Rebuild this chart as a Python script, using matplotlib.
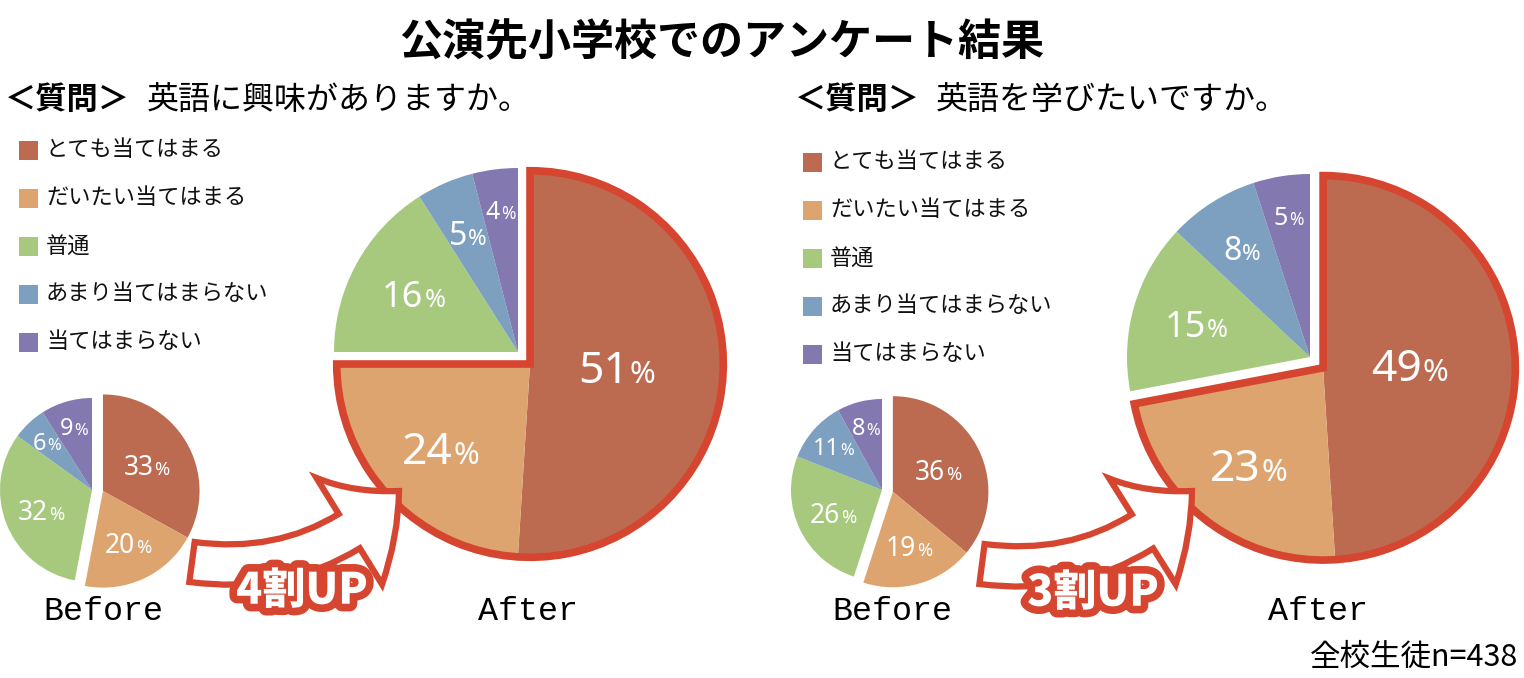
import matplotlib
matplotlib.use('Agg')
import matplotlib.pyplot as plt
import matplotlib.patches as mpatches
import matplotlib.patheffects as pe
import numpy as np

plt.rcParams['font.family'] = ['Noto Sans CJK JP', 'DejaVu Sans']

# Chart data
TITLE = '公演先小学校でのアンケート結果'
CATEGORIES = ['とても当てはまる', 'だいたい当てはまる', '普通', 'あまり当てはまらない', '当てはまらない']
QUESTION_TAG = '＜質問＞'
Q1_TEXT = '英語に興味がありますか。'
Q2_TEXT = '英語を学びたいですか。'
q1_before = [33, 20, 32, 6, 9]
q1_after = [51, 24, 16, 5, 4]
q2_before = [36, 19, 26, 11, 8]
q2_after = [49, 23, 15, 8, 5]
q1_up_label = '4割UP'
q2_up_label = '3割UP'
BEFORE_LABEL = 'Before'
AFTER_LABEL = 'After'
SAMPLE_NOTE = '全校生徒n=438'

# Styles
COLORS = ['#bd6b50', '#dea46f', '#a6c97e', '#7ea0c0', '#8379b0']
HIGHLIGHT = '#d5452f'
BEFORE_SIZES = [19, 19, 19, 17, 17]
AFTER_SIZES = [32, 32, 26, 23, 18]
BEFORE_DISTS = [0.52, 0.6, 0.6, 0.72, 0.72]
AFTER_DISTS = [0.45, 0.64, 0.65, 0.7, 0.78]

W, H = 1524, 678
PX = 100 / 72.0   # pixels per point

fig = plt.figure(figsize=(W / 100, H / 100), dpi=100)
ax = fig.add_axes([0, 0, 1, 1])


def Y(py):
   # pixel row (from top) -> data y (from bottom)
   return H - py


def DrawPercent(x, y, value, size):
   num = str(value)
   pct_size = size * 0.7
   num_w = len(num) * 0.56 * size * PX
   pct_w = 0.8 * pct_size * PX
   total = num_w + pct_w
   x_split = x - total / 2 + num_w
   base = y - 0.36 * size * PX
   ax.text(x_split, base, num, color='white', fontsize=size, ha='right', va='baseline',
           family=['Noto Sans', 'DejaVu Sans'], zorder=4)
   ax.text(x_split + 1, base, '%', color='white', fontsize=pct_size, ha='left', va='baseline',
           family=['Noto Sans', 'DejaVu Sans'], zorder=4)


def DrawPie(values, cx, cy, radius, grow, shift, sizes, dists, outline):
   wedges, _ = ax.pie(values, colors=COLORS, startangle=90, counterclock=False,
                      radius=radius, center=(cx, Y(cy)), wedgeprops=dict(linewidth=0))
   # the first two answers ("positive") are pulled out as a group
   t_lo = min(w.theta1 for w in wedges[:2])
   t_hi = max(w.theta2 for w in wedges[:2])
   mid = np.deg2rad((t_lo + t_hi) / 2)
   gx = cx + shift * np.cos(mid)
   gy = Y(cy) + shift * np.sin(mid)
   for w in wedges[:2]:
      w.set_center((gx, gy))
      w.set_radius(radius * grow)
   if outline:
      ax.add_patch(mpatches.Wedge((gx, gy), radius * grow + 1, t_lo, t_hi, facecolor='none',
                                  edgecolor=HIGHLIGHT, linewidth=5.5, joinstyle='miter', zorder=3))
   for i, w in enumerate(wedges):
      a = np.deg2rad((w.theta1 + w.theta2) / 2)
      ox, oy = w.center
      r = w.r * dists[i]
      DrawPercent(ox + r * np.cos(a), oy + r * np.sin(a), values[i], sizes[i])


def DrawUpArrow(x0, y0, x1, y1, label, lx, ly):
   arrow = mpatches.FancyArrowPatch((x0, Y(y0)), (x1, Y(y1)), connectionstyle='arc3,rad=0.25',
                                    arrowstyle='simple,head_length=46,head_width=90,tail_width=29',
                                    mutation_scale=1, facecolor='white', edgecolor=HIGHLIGHT,
                                    linewidth=4.5, joinstyle='miter', shrinkA=0, shrinkB=0, zorder=5)
   ax.add_patch(arrow)
   ax.text(lx, Y(ly), label, color='white', fontsize=31, fontweight='heavy', ha='center', va='center',
           path_effects=[pe.withStroke(linewidth=11, foreground=HIGHLIGHT)], zorder=6)


def DrawLegend(x, y0, step):
   for i, cat in enumerate(CATEGORIES):
      yc = Y(y0 + i * step)
      ax.add_patch(mpatches.Rectangle((x, yc - 9.5), 19, 19, facecolor=COLORS[i], edgecolor='none'))
      ax.text(x + 27, yc, cat, fontsize=16, ha='left', va='center', color='#111111')


def DrawQuestion(x, x_text, y, text):
   ax.text(x, Y(y), QUESTION_TAG, fontsize=22.5, fontweight='bold', ha='left', va='center')
   ax.text(x_text, Y(y), text, fontsize=23, ha='left', va='center')


#########################################################################
# Title and questions
#########################################################################
ax.text(722, Y(42), TITLE, fontsize=31, fontweight='bold', ha='center', va='center')
DrawQuestion(5, 147, 100, Q1_TEXT)
DrawQuestion(795, 936, 100, Q2_TEXT)
DrawLegend(19, 150, 48)
DrawLegend(803, 162, 48)

#########################################################################
# Pies
#########################################################################
DrawPie(q1_before, 92, 490, 92, 1.05, 11, BEFORE_SIZES, BEFORE_DISTS, False)
DrawPie(q1_after, 518, 352, 184, 1.045, 17, AFTER_SIZES, AFTER_DISTS, True)
DrawPie(q2_before, 882, 490, 91, 1.05, 11, BEFORE_SIZES, BEFORE_DISTS, False)
DrawPie(q2_after, 1310, 357, 183, 1.045, 17, AFTER_SIZES, AFTER_DISTS, True)

#########################################################################
# Arrows and captions
#########################################################################
DrawUpArrow(192, 562, 399, 491, q1_up_label, 302, 591)
DrawUpArrow(982, 564, 1192, 491, q2_up_label, 1093, 593)

for x, lab in [(103, BEFORE_LABEL), (528, AFTER_LABEL), (892, BEFORE_LABEL), (1318, AFTER_LABEL)]:
   ax.text(x, Y(612), lab, fontsize=24, ha='center', va='center', family='Liberation Mono')

ax.text(1518, Y(657), SAMPLE_NOTE, fontsize=22, ha='right', va='center')

ax.set_xlim(0, W)
ax.set_ylim(0, H)
ax.axis('off')

fig.savefig('out.png', dpi=100, facecolor='white')
